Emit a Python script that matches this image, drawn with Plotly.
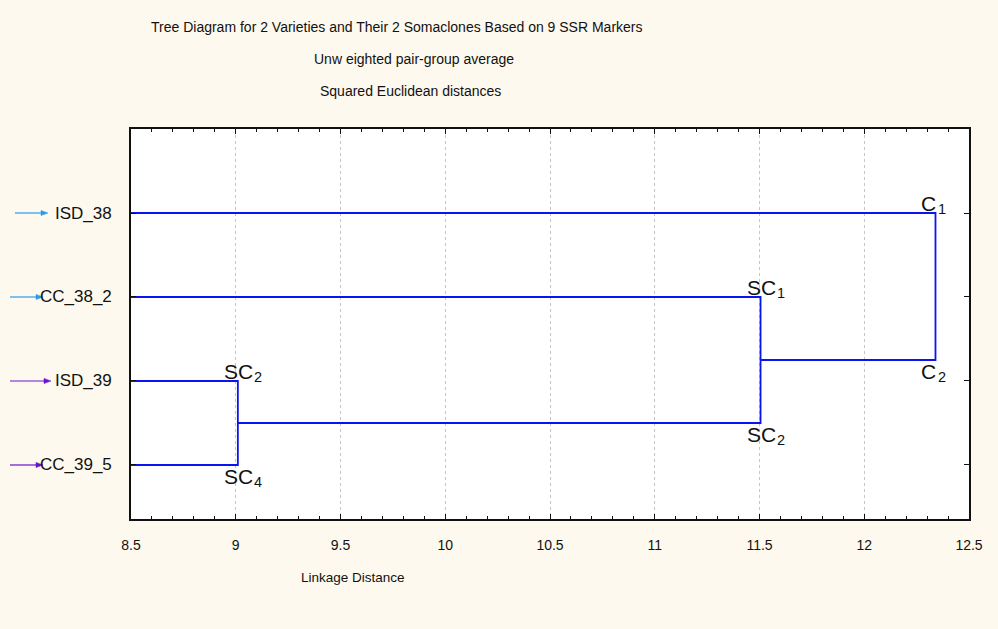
import plotly.graph_objects as go

# ---- data ----
leaf_names = ["ISD_38", "CC_38_2", "ISD_39", "CC_39_5"]
leaf_pos = [1, 2, 3, 4]
arrow_colors = ["#2A9BEA", "#2A9BEA", "#6A12D0", "#6A12D0"]
# merges: (left cluster id, right cluster id, linkage distance); ids 0-3 leaves, 4+ new clusters
merges = [(2, 3, 9.01), (1, 4, 11.505), (0, 5, 12.34)]
node_labels_top = [("SC", "2"), ("SC", "1"), ("C", "1")]
node_labels_bot = [("SC", "4"), ("SC", "2"), ("C", "2")]
x_min, x_max = 8.5, 12.5
x_ticks = [8.5, 9, 9.5, 10, 10.5, 11, 11.5, 12, 12.5]
x_tick_text = ["8.5", "9", "9.5", "10", "10.5", "11", "11.5", "12", "12.5"]
title_lines = [
    "Tree Diagram for 2 Varieties and Their 2 Somaclones Based on 9 SSR Markers",
    "Unw eighted pair-group average",
    "Squared Euclidean distances",
]
x_title = "Linkage Distance"

# ---- build dendrogram segments ----
pos = {i: p for i, p in enumerate(leaf_pos)}
height = {i: x_min for i in range(len(leaf_pos))}
xs, ys = [], []
label_pts = []
for k, (a, b, h) in enumerate(merges):
    ya, yb = pos[a], pos[b]
    xs += [height[a], h, h, height[b], None]
    ys += [ya, ya, yb, yb, None]
    nid = len(leaf_pos) + k
    pos[nid] = (ya + yb) / 2
    height[nid] = h
    label_pts.append((h, min(ya, yb), max(ya, yb)))

fig = go.Figure()
fig.add_trace(go.Scatter(x=xs, y=ys, mode="lines",
                         line=dict(color="#0A14F0", width=1.8),
                         hoverinfo="skip", showlegend=False))

font = "Liberation Sans, Arial, sans-serif"
PL, PT, PW, PH = 131, 129, 838, 390
Y_RANGE = [4.643, 0]
PX_PER_Y = PH / (Y_RANGE[0] - Y_RANGE[1])
GLYPH_W = {"S": 0.667, "C": 0.722}


def px(x):
    return (x - PL) / PW


def py(y):
    return 1 - (y - PT) / PH


ann = []
shapes = []
title_centers = [(397, 27), (414, 59), (410, 91)]
for t, (cx, cy) in zip(title_lines, title_centers):
    ann.append(dict(text=t, xref="paper", yref="paper", x=px(cx), y=py(cy), showarrow=False,
                    xanchor="center", yanchor="middle", font=dict(size=14, color="#111", family=font)))
ann.append(dict(text=x_title, xref="paper", yref="paper", x=px(353), y=py(577),
                showarrow=False, xanchor="center", yanchor="middle",
                font=dict(size=13.5, color="#111", family=font)))

# leaf labels and arrows (arrows drawn as shapes)
arrow_heads = [48, 43, 51, 43]
arrow_tails = [15, 10, 10, 10]
for name, p, c, hx, tx in zip(leaf_names, leaf_pos, arrow_colors, arrow_heads, arrow_tails):
    ann.append(dict(text=name, xref="paper", yref="y", x=px(114), y=p, showarrow=False,
                    xanchor="right", yanchor="middle", font=dict(size=17, color="#111", family=font)))
    shapes.append(dict(type="line", xref="paper", yref="y", x0=px(tx), x1=px(hx - 5), y0=p, y1=p,
                       line=dict(color=c, width=1.2)))
    hh = 2.6 / PX_PER_Y
    path = f"M {px(hx - 7)} {p - hh} L {px(hx)} {p} L {px(hx - 7)} {p + hh} Z"
    shapes.append(dict(type="path", xref="paper", yref="y", path=path,
                       fillcolor=c, line=dict(color=c, width=0.5)))

# node labels: main text + subscript as separate annotations
MAIN_SIZE, SUB_SIZE = 21, 14.5
for (h, ytop, ybot), (mt, st), (mb, sb) in zip(label_pts, node_labels_top, node_labels_bot):
    for main, sub, yv, anchor, ys_main, ys_sub in (
            (mt, st, ytop, "bottom", -4, -6),
            (mb, sb, ybot, "top", 2, -7)):
        w = sum(GLYPH_W[ch] for ch in main) * MAIN_SIZE
        ann.append(dict(text=main, x=h, y=yv, xref="x", yref="y", showarrow=False,
                        xanchor="left", yanchor=anchor, xshift=-16, yshift=ys_main,
                        font=dict(size=MAIN_SIZE, color="#111", family=font)))
        ann.append(dict(text=sub, x=h, y=yv, xref="x", yref="y", showarrow=False,
                        xanchor="left", yanchor=anchor, xshift=-15 + w, yshift=ys_sub,
                        font=dict(size=SUB_SIZE, color="#111", family=font)))

fig.update_layout(
    width=998, height=629,
    margin=dict(l=PL, r=998 - PL - PW, t=PT, b=629 - PT - PH),
    paper_bgcolor="#FEF9EE", plot_bgcolor="#FFFFFF",
    annotations=ann, shapes=shapes,
    xaxis=dict(range=[x_min, x_max], tickvals=x_ticks, ticktext=x_tick_text,
               showgrid=True, gridcolor="#C4C4C4", griddash="dot", gridwidth=1,
               zeroline=False, showline=True, linecolor="#111", linewidth=1.5, mirror="ticks",
               ticks="inside", ticklen=5, tickcolor="#111", ticklabelstandoff=12,
               minor=dict(dtick=0.1, ticks="inside", ticklen=3, tickcolor="#111", showgrid=False),
               tickfont=dict(size=14, color="#111", family=font)),
    yaxis=dict(range=Y_RANGE, tickvals=leaf_pos, showticklabels=False, showgrid=False,
               zeroline=False, showline=True, linecolor="#111", linewidth=1.5, mirror="ticks",
               ticks="inside", ticklen=5, tickcolor="#111"),
)

fig.write_html("out.html", config={"displayModeBar": False},
               post_script="document.body.style.margin='0px';")
